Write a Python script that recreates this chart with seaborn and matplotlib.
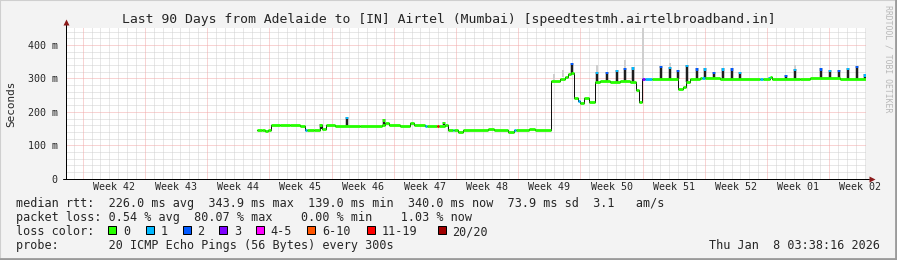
import numpy as np
import pandas as pd
import matplotlib
matplotlib.use("Agg")
import matplotlib.pyplot as plt
import seaborn as sns
from matplotlib.patches import Rectangle
import matplotlib.transforms as mtransforms

# ---------------- data ----------------
title = "Last 90 Days from Adelaide to [IN] Airtel (Mumbai) [speedtestmh.airtelbroadband.in]"
week_labels = ["Week 42", "Week 43", "Week 44", "Week 45", "Week 46", "Week 47", "Week 48",
               "Week 49", "Week 50", "Week 51", "Week 52", "Week 01", "Week 02"]
week_start_days = [1.87, 8.87, 15.87, 22.87, 29.87, 36.87, 43.87, 50.87, 57.87,
                   64.87, 71.87, 78.87, 85.87]
y_ticks = [0, 100, 200, 300, 400]
y_tick_labels = ["0", "100 m", "200 m", "300 m", "400 m"]

# median rtt step line (days since graph start, ms, loss class)
med_day = [21.49, 22.05, 22.39, 22.72, 23.06, 24.07, 25.20, 26.32, 26.89, 27.10, 27.90, 28.57,
           28.80, 29.25, 30.26, 33.07, 35.55, 35.89, 36.34, 37.57, 38.70, 39.15, 40.39, 40.60,
           41.74, 41.95, 42.64, 42.97, 43.50, 43.70, 44.10, 44.66, 47.47, 48.15, 49.72, 50.40,
           50.60, 52.09, 52.76, 54.56, 55.57, 56.14, 56.47, 56.81, 57.15, 57.60, 57.82, 58.27,
           58.84, 59.51, 60.07, 61.20, 62.32, 63.44, 64.11, 64.45, 64.79, 65.14, 65.92, 68.85,
           69.41, 69.75, 70.20, 71.30, 71.60, 71.90, 73.57, 78.07, 78.40, 79.20, 79.42, 82.60,
           83.70, 87.07, 90.00]
med_ms = [147, 145, 142, 146, 162, 160, 161, 158, 145, 145, 146, 160,
          150, 160, 158, 158, 161, 166, 160, 158, 166, 160, 158, 158,
          158, 158, 160, 146, 146, 146, 141, 146, 150, 146, 141, 145,
          145, 149, 146, 293, 297, 303, 313, 316, 240, 232, 226, 241,
          228, 290, 292, 290, 292, 290, 265, 228, 298, 298, 298, 268,
          275, 288, 297, 300, 300, 300, 297, 298, 298, 303, 298, 297,
          300, 298, 298]
med_loss = [0, 0, 0, 0, 0, 0, 0, 0, 1, 0, 0, 0,
            0, 0, 0, 0, 0, 0, 0, 0, 0, 0, 1, 0,
            6, 0, 0, 0, 1, 0, 0, 0, 0, 0, 0, 1,
            0, 0, 0, 0, 0, 0, 0, 0, 0, 1, 0, 0,
            0, 0, 0, 0, 0, 0, 0, 0, 3, 1, 0, 0,
            0, 0, 0, 0, 1, 0, 0, 1, 0, 0, 0, 0,
            0, 0, 0]

# short rtt spikes
spike_day = [28.68, 31.61, 35.77, 42.52, 56.92, 59.74, 60.86, 61.95, 62.89, 63.82, 66.90,
             67.95, 68.88, 69.90, 70.95, 71.89, 72.90, 73.95, 74.89, 75.88, 79.20, 81.00,
             82.01, 84.94, 85.95, 86.96, 88.00, 88.95, 89.88]
spike_base = [150, 158, 162, 160, 313, 290, 290, 290, 290, 290, 298,
              298, 298, 290, 298, 298, 298, 298, 298, 298, 298, 298,
              298, 298, 298, 298, 298, 298, 298]
spike_ms = [163, 185, 178, 170, 347, 320, 320, 325, 332, 333, 337,
            335, 325, 340, 330, 330, 320, 330, 330, 320, 305, 310,
            328, 330, 325, 325, 332, 337, 312]
spike_loss = [0, 1, 0, 0, 2, 1, 2, 1, 2, 1, 2,
              1, 2, 1, 2, 1, 2, 1, 2, 1, 1, 2,
              1, 2, 1, 2, 1, 2, 1]

# light smoke (ping spread)
smoke_day = [64.90, 54.85, 55.90, 59.74, 62.89, 67.95, 82.01]
smoke_lo = [298, 293, 305, 320, 330, 335, 328]
smoke_hi = [450, 312, 325, 340, 355, 345, 340]

loss_names = ["0", "1", "2", "3", "4-5", "6-10", "11-19", "20/20"]
loss_colors = ["#26ff00", "#00b8ff", "#0059ff", "#7e00ff", "#ff00ff", "#ff5500", "#ff0000", "#a10000"]

stats_rtt = "median rtt:  226.0 ms avg  343.9 ms max  139.0 ms min  340.0 ms now  73.9 ms sd  3.1   am/s"
stats_loss = "packet loss: 0.54 % avg  80.07 % max    0.00 % min    1.03 % now"
probe_text = "probe:       20 ICMP Echo Pings (56 Bytes) every 300s"
date_text = "Thu Jan  8 03:38:16 2026"
watermark = "RRDTOOL / TOBI OETIKER"

# ---------------- figure ----------------
sns.set_style("white")
plt.rcParams["font.family"] = ["DejaVu Sans Mono", "DejaVu Sans"]
W, H = 897, 260
fig = plt.figure(figsize=(W / 100, H / 100), dpi=100, facecolor="#f3f3f3")

def fx(px):
    return px / W

def fy(py):
    return 1 - py / H

# border
fig.add_artist(Rectangle((0, 0), 1, 1, transform=fig.transFigure, fill=False,
                         edgecolor="#cfcfcf", lw=1.5))
fig.add_artist(plt.Line2D([0, 1], [fy(259), fy(259)], transform=fig.transFigure, color="#9a9a9a", lw=2))
fig.add_artist(plt.Line2D([fx(896), fx(896)], [0, 1], transform=fig.transFigure, color="#9a9a9a", lw=2))

x0, x1, ytop, ybot = 66, 866, 28.3, 178.7
ax = fig.add_axes([fx(x0), fy(ybot), (x1 - x0) / W, (ybot - ytop) / H])
ax.set_facecolor("white")
ax.set_xlim(0, 90)
ax.set_ylim(0, 450)

px = 0.72  # one pixel in points
dot = (0, (1, 1))
grid_gray = "#d0d0d0"
grid_red = "#f2a8a8"

# minor grid
day_lines = [d for d in np.arange(0.87, 90, 1.0) if min(abs(d - w) for w in week_start_days) > 0.1]
ax.vlines(day_lines, 0, 450, colors=grid_gray, lw=px, linestyles=dot, zorder=0.5)
minor_y = [v for v in range(20, 450, 20) if v % 100 != 0]
ax.hlines(minor_y, 0, 90, colors=grid_gray, lw=px, linestyles=dot, zorder=0.5)
# major grid
ax.vlines(week_start_days, 0, 450, colors=grid_red, lw=px, linestyles=dot, zorder=0.6)
ax.hlines(y_ticks[1:], 0, 90, colors=grid_red, lw=px, linestyles=dot, zorder=0.6)

# smoke
ax.vlines(smoke_day, smoke_lo, smoke_hi, colors="#cfcfcf", lw=2 * px, zorder=1)

# median black step line
df = pd.DataFrame({"day": med_day, "ms": med_ms})
sns.lineplot(data=df, x="day", y="ms", ax=ax, color="#111111", lw=px,
             drawstyle="steps-post", errorbar=None, zorder=2)

# spikes
ax.vlines(spike_day, spike_base, spike_ms, colors="#1e1e1e", lw=2.5 * px, zorder=2.5)
tip_cols = [loss_colors[l] for l in spike_loss]
ax.vlines(spike_day, np.array(spike_ms) - 7, spike_ms, colors=tip_cols, lw=2.5 * px, zorder=2.6)

# median loss-coloured segments
seg_cols = [loss_colors[l] for l in med_loss[:-1]]
ax.hlines(med_ms[:-1], med_day[:-1], med_day[1:], colors=seg_cols, lw=2.8 * px, zorder=3)

# axes styling
for s in ["top", "right"]:
    ax.spines[s].set_visible(False)
for s in ["left", "bottom"]:
    ax.spines[s].set_color("black")
    ax.spines[s].set_linewidth(px)
ax.set_xlabel("")
ax.set_ylabel("")
ax.set_yticks(y_ticks)
ax.set_yticklabels(y_tick_labels)
ax.set_xticks(week_start_days)
ax.set_xticklabels([""] * len(week_start_days))
ax.tick_params(axis="y", length=3, width=px, color="black", pad=3, labelsize=7.2)
ax.tick_params(axis="x", length=2.5, width=px, color="#f08080", pad=1)
for lab in ax.get_yticklabels():
    lab.set_fontfamily("DejaVu Sans Mono")

# axis arrows
ax.plot([0, 0], [1, 1 + 6.0 / 150.4], transform=ax.transAxes, color="black", lw=px, clip_on=False)
ax.plot([0], [1 + 6.5 / 150.4], marker="^", ms=4.5, color="#8b1a1a", transform=ax.transAxes,
        clip_on=False, mec="none")
ax.plot([-3.5 / 800, 1.004], [0, 0], transform=ax.transAxes, color="black", lw=px, clip_on=False)
ax.plot([1 + 5.5 / 800], [0], marker=">", ms=4.5, color="#8b1a1a", transform=ax.transAxes,
        clip_on=False, mec="none")

# week labels at mid-week
trans = mtransforms.blended_transform_factory(ax.transData, ax.transAxes)
for wd, wl in zip(week_start_days, week_labels):
    ax.text(wd + 3.5, -8.3 / 150.4, wl, transform=trans, ha="center", va="center",
            fontsize=7.2, family="DejaVu Sans Mono", clip_on=False)

# titles / labels
fig.text(0.5, fy(19.0), title, ha="center", va="center", fontsize=9.45, family="DejaVu Sans Mono")
fig.text(fx(11.5), fy(103.5), "Seconds", rotation=90, ha="center", va="center", fontsize=7.9,
         family="DejaVu Sans Mono")
fig.text(fx(887.5), fy(59), watermark, rotation=-90, ha="center", va="center", fontsize=5.9,
         family="DejaVu Sans Mono", color="#b8b8b8")

# legend rows
fs = 8.5
fig.text(fx(16), fy(203.8), stats_rtt, ha="left", va="center", fontsize=fs, family="DejaVu Sans Mono")
fig.text(fx(16), fy(217.8), stats_loss, ha="left", va="center", fontsize=fs, family="DejaVu Sans Mono")
fig.text(fx(16), fy(231.8), "loss color:", ha="left", va="center", fontsize=fs, family="DejaVu Sans Mono")
sq_x = [108.3, 145.7, 182.7, 219.3, 256.0, 307.3, 366.7, 437.7]
for sx, col, name in zip(sq_x, loss_colors, loss_names):
    fig.add_artist(Rectangle((fx(sx), fy(233.5)), 8 / W, 8 / H, transform=fig.transFigure,
                             facecolor=col, edgecolor="black", lw=px))
    fig.text(fx(sx + 14.5), fy(231.8), name, ha="left", va="center", fontsize=fs,
             family="DejaVu Sans Mono")
fig.text(fx(16), fy(245.8), probe_text, ha="left", va="center", fontsize=fs, family="DejaVu Sans Mono")
fig.text(fx(880), fy(245.8), date_text, ha="right", va="center", fontsize=fs, family="DejaVu Sans Mono")

fig.savefig("out.png", dpi=100, facecolor=fig.get_facecolor())
